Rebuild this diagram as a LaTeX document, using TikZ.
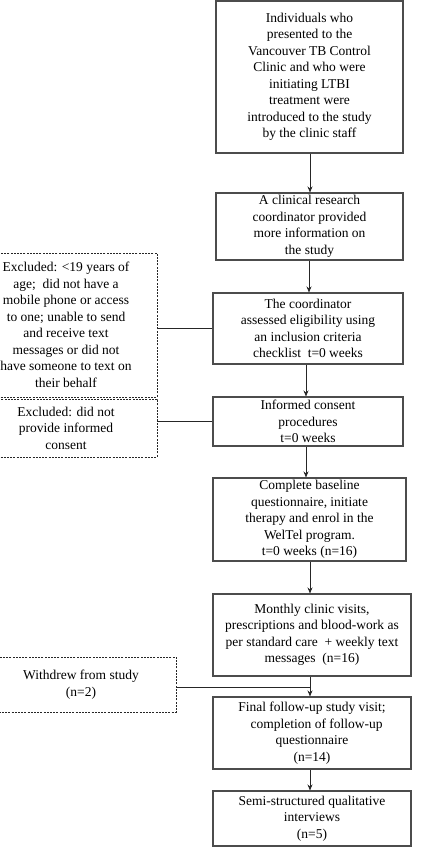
\documentclass[tikz,border=0pt]{standalone}
\usepackage{fontspec}
\setmainfont{Liberation Serif}
\usetikzlibrary{arrows.meta,calc}
\tikzset{
  box/.style={draw=black!70, line width=1.1pt, rectangle, inner sep=0pt, align=center,
    font=\fontsize{13.5}{16.5}\selectfont},
  dbox/.style={draw=black!85, line width=0.9pt, dash pattern=on 2pt off 1.2pt, rectangle,
    inner sep=0pt, align=center, font=\fontsize{13.5}{16.5}\selectfont},
  arr/.style={draw=black!85, line width=0.9pt, -{Stealth[length=6pt,width=5pt]}},
  link/.style={draw=black!85, line width=0.9pt}
}
\begin{document}
\begin{tikzpicture}[x=1pt,y=-1pt]
\clip (0,0) rectangle (430,847);
\fill[white] (0,0) rectangle (430,847);
\node[box, minimum width=187pt, minimum height=152pt] (b1) at (309.5,77)
  {Individuals who\\presented to the\\Vancouver TB Control\\Clinic and who were\\initiating LTBI\\treatment were\\introduced to the study\\by the clinic staff};
\node[box, minimum width=187pt, minimum height=67pt] (b2) at (309.5,226.5)
  {A clinical research\\coordinator provided\\more information on\\the study};
\node[box, minimum width=190pt, minimum height=71pt] (b3) at (308,328.5)
  {The coordinator\\assessed eligibility using\\an inclusion criteria\\checklist\ \ t=0 weeks};
\node[box, minimum width=190pt, minimum height=49pt] (b4) at (308,421.5)
  {Informed consent\\procedures\\t=0 weeks};
\node[box, minimum width=193pt, minimum height=83pt] (b5) at (309.5,519.5)
  {Complete baseline\\questionnaire, initiate\\therapy and enrol in the\\WelTel program.\\t=0 weeks (n=16)};
\node[box, minimum width=198pt, minimum height=82pt] (b6) at (312,635)
  {Monthly clinic visits,\\prescriptions and blood-work as\\per standard care\ \ + weekly text\\messages\ \ (n=16)};
\node[box, minimum width=198pt, minimum height=72pt] (b7) at (312,733)
  {Final follow-up study visit;\\\hspace*{0.7em}completion of follow-up\\questionnaire\\(n=14)};
\node[box, minimum width=198pt, minimum height=55pt] (b8) at (312,818.5)
  {Semi-structured qualitative\\interviews\\(n=5)};
\node[dbox, minimum width=182pt, minimum height=144pt] (e1) at (66,325)
  {Excluded: <19 years of\\age;\ \ did not have a\\mobile phone or access\\to one; unable to send\\and receive text\\messages or did not\\have someone to text on\\their behalf};
\node[dbox, minimum width=182pt, minimum height=58pt] (e2) at (66,428)
  {Excluded: did not\\provide informed\\consent};
\node[dbox, minimum width=190pt, minimum height=55pt] (w) at (81,684.5)
  {Withdrew from study\\(n=2)};
\coordinate (ax) at (310,0);
\coordinate (bx) at (309,0);
\coordinate (cx) at (306,0);
\coordinate (ay) at (0,687);
\draw[arr] (b1.south -| ax) -- (b2.north -| ax);
\draw[arr] (b2.south -| bx) -- (b3.north -| bx);
\draw[arr] (b3.south -| cx) -- (b4.north -| cx);
\draw[arr] (b4.south -| cx) -- (b5.north -| cx);
\draw[arr] (b5.south -| ax) -- (b6.north -| ax);
\draw[arr] (b6.south -| ax) -- (b7.north -| ax);
\draw[arr] (b7.south -| ax) -- (b8.north -| ax);
\draw[link] (b3.west) -- (b3.west -| e1.east);
\draw[link] (b4.west) -- (b4.west -| e2.east);
\draw[link] (w.east |- ay) -- (ax |- ay);
\end{tikzpicture}
\end{document}
